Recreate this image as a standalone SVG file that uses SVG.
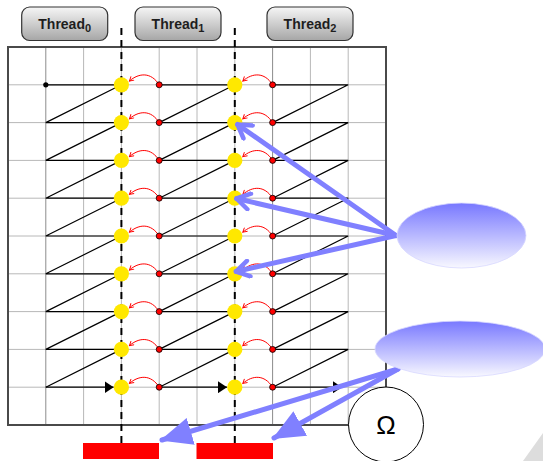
<svg xmlns="http://www.w3.org/2000/svg" width="543" height="461" viewBox="0 0 543 461">
  <defs>
    <linearGradient id="boxFill" x1="0" y1="0" x2="0" y2="1">
      <stop offset="0" stop-color="#f6f6f6"/>
      <stop offset="1" stop-color="#a6a6a6"/>
    </linearGradient>
    <linearGradient id="blobFill" x1="0" y1="0" x2="0" y2="1">
      <stop offset="0" stop-color="#7878ff"/>
      <stop offset="1" stop-color="#f8f8ff"/>
    </linearGradient>
    <marker id="endBlack" viewBox="0 0 9 12" refX="9" refY="6" markerWidth="9" markerHeight="12" markerUnits="userSpaceOnUse" orient="auto">
      <path d="M0,0 L9,6 L0,12 z" fill="#000"/>
    </marker>
    <marker id="endRed" viewBox="0 0 10 10" refX="8" refY="5" markerWidth="6" markerHeight="6" markerUnits="userSpaceOnUse" orient="auto">
      <path d="M1,1 L8,5 L1,9" fill="none" stroke="#ff0000" stroke-width="1.6"/>
    </marker>
    <marker id="endChevron" viewBox="-16 -10 18 20" refX="0" refY="0" markerWidth="18" markerHeight="20" markerUnits="userSpaceOnUse" orient="auto">
      <path d="M-13,-8 L0,0 L-13,8" fill="none" stroke="#8080ff" stroke-width="4.5" stroke-linecap="round" stroke-linejoin="round"/>
    </marker>
    <marker id="endBig" viewBox="0 0 32 28" refX="30" refY="14" markerWidth="32" markerHeight="28" markerUnits="userSpaceOnUse" orient="auto">
      <path d="M0,0 L32,14 L0,28 z" fill="#8080ff"/>
    </marker>
  </defs>
  <style>
    .gridL { stroke: #b8b8b8; stroke-width: 1; }
    .gridD { stroke: #8c8c8c; stroke-width: 1; }
    .path { stroke: #000; stroke-width: 1.2; fill: none; }
    .cut { stroke: #000; stroke-width: 2; stroke-dasharray: 7 5; }
    .worker { fill: #ffe800; }
    .seed { fill: #ff0000; stroke: #000; stroke-width: 0.8; }
    .hand { fill: none; stroke: #ff0000; stroke-width: 1; marker-end: url(#endRed); }
    .ptr { stroke: #8080ff; stroke-width: 5; stroke-linecap: round; fill: none; }
    .label { fill: url(#boxFill); stroke: #333; stroke-width: 1.2; }
    .ltext { font-family: "Liberation Sans", Arial, sans-serif; font-weight: bold; font-size: 14px; fill: #1e1e1e; }
    .sub { font-size: 11px; }
    .blob { fill: url(#blobFill); stroke: #d8d8ff; stroke-width: 0.8; }
    .bar { fill: #ff0000; }
  </style>

  <!-- corner page shading -->
  <polygon points="523,461 543,433 543,461" fill="#dddddd"/>

  <!-- grid -->
  <g id="grid">
    <g class="gridL">
      <line x1="8" y1="84.8" x2="386" y2="84.8"/>
      <line x1="8" y1="122.6" x2="386" y2="122.6"/>
      <line x1="8" y1="160.4" x2="386" y2="160.4"/>
      <line x1="8" y1="198.2" x2="386" y2="198.2"/>
      <line x1="8" y1="236" x2="386" y2="236"/>
      <line x1="8" y1="273.8" x2="386" y2="273.8"/>
      <line x1="8" y1="311.6" x2="386" y2="311.6"/>
      <line x1="8" y1="349.4" x2="386" y2="349.4"/>
      <line x1="8" y1="387.2" x2="386" y2="387.2"/>
      <line x1="83.6" y1="47" x2="83.6" y2="425"/>
      <line x1="121.4" y1="47" x2="121.4" y2="425"/>
      <line x1="159.2" y1="47" x2="159.2" y2="425"/>
      <line x1="197" y1="47" x2="197" y2="425"/>
      <line x1="234.8" y1="47" x2="234.8" y2="425"/>
      <line x1="310.4" y1="47" x2="310.4" y2="425"/>
      <line x1="348.2" y1="47" x2="348.2" y2="425"/>
    </g>
    <g class="gridD">
      <line x1="45.8" y1="47" x2="45.8" y2="425"/>
      <line x1="272.6" y1="47" x2="272.6" y2="425"/>
    </g>
    <rect x="8" y="47" width="378" height="378" fill="none" stroke="#4a4a4a" stroke-width="2"/>
  </g>

  <!-- zigzag traversal inside each thread block -->
  <g id="traversal" class="path">
    <path d="M45.8,84.8 H121.4 L45.8,122.6 H121.4 L45.8,160.4 H121.4 L45.8,198.2 H121.4 L45.8,236 H121.4 L45.8,273.8 H121.4 L45.8,311.6 H121.4 L45.8,349.4 H121.4 L45.8,387.2"/>
    <path d="M159.2,84.8 H234.8 L159.2,122.6 H234.8 L159.2,160.4 H234.8 L159.2,198.2 H234.8 L159.2,236 H234.8 L159.2,273.8 H234.8 L159.2,311.6 H234.8 L159.2,349.4 H234.8 L159.2,387.2"/>
    <path d="M272.6,84.8 H348.2 L272.6,122.6 H348.2 L272.6,160.4 H348.2 L272.6,198.2 H348.2 L272.6,236 H348.2 L272.6,273.8 H348.2 L272.6,311.6 H348.2 L272.6,349.4 H348.2 L272.6,387.2"/>
    <line x1="45.8" y1="387.2" x2="113.6" y2="387.2" marker-end="url(#endBlack)"/>
    <line x1="159.2" y1="387.2" x2="227" y2="387.2" marker-end="url(#endBlack)"/>
    <line x1="272.6" y1="387.2" x2="342" y2="387.2" marker-end="url(#endBlack)"/>
  </g>

  <!-- thread boundaries -->
  <g id="boundaries">
    <line class="cut" x1="121.4" y1="28" x2="121.4" y2="446"/>
    <line class="cut" x1="234.8" y1="28" x2="234.8" y2="446"/>
  </g>

  <!-- start point -->
  <g id="start">
    <circle cx="45.8" cy="84.8" r="2.6" fill="#000"/>
  </g>

  <!-- hand-over arcs from block start to previous block's worker -->
  <g id="handovers">
    <path class="hand" d="M159.2,84.8 C151,71.8 139,72.8 129.4,81"/>
    <path class="hand" d="M159.2,122.6 C151,109.6 139,110.6 129.4,118.8"/>
    <path class="hand" d="M159.2,160.4 C151,147.4 139,148.4 129.4,156.6"/>
    <path class="hand" d="M159.2,198.2 C151,185.2 139,186.2 129.4,194.4"/>
    <path class="hand" d="M159.2,236 C151,223 139,224 129.4,232.2"/>
    <path class="hand" d="M159.2,273.8 C151,260.8 139,261.8 129.4,270"/>
    <path class="hand" d="M159.2,311.6 C151,298.6 139,299.6 129.4,307.8"/>
    <path class="hand" d="M159.2,349.4 C151,336.4 139,337.4 129.4,345.6"/>
    <path class="hand" d="M159.2,387.2 C151,374.2 139,375.2 129.4,383.4"/>
    <path class="hand" d="M272.6,84.8 C264.4,71.8 252.4,72.8 242.8,81"/>
    <path class="hand" d="M272.6,122.6 C264.4,109.6 252.4,110.6 242.8,118.8"/>
    <path class="hand" d="M272.6,160.4 C264.4,147.4 252.4,148.4 242.8,156.6"/>
    <path class="hand" d="M272.6,198.2 C264.4,185.2 252.4,186.2 242.8,194.4"/>
    <path class="hand" d="M272.6,236 C264.4,223 252.4,224 242.8,232.2"/>
    <path class="hand" d="M272.6,273.8 C264.4,260.8 252.4,261.8 242.8,270"/>
    <path class="hand" d="M272.6,311.6 C264.4,298.6 252.4,299.6 242.8,307.8"/>
    <path class="hand" d="M272.6,349.4 C264.4,336.4 252.4,337.4 242.8,345.6"/>
    <path class="hand" d="M272.6,387.2 C264.4,374.2 252.4,375.2 242.8,383.4"/>
  </g>

  <!-- worker positions on the boundaries -->
  <g id="workers" class="worker">
    <circle cx="121.4" cy="84.8" r="7.6"/>
    <circle cx="121.4" cy="122.6" r="7.6"/>
    <circle cx="121.4" cy="160.4" r="7.6"/>
    <circle cx="121.4" cy="198.2" r="7.6"/>
    <circle cx="121.4" cy="236" r="7.6"/>
    <circle cx="121.4" cy="273.8" r="7.6"/>
    <circle cx="121.4" cy="311.6" r="7.6"/>
    <circle cx="121.4" cy="349.4" r="7.6"/>
    <circle cx="121.4" cy="387.2" r="7.6"/>
    <circle cx="234.8" cy="84.8" r="7.6"/>
    <circle cx="234.8" cy="122.6" r="7.6"/>
    <circle cx="234.8" cy="160.4" r="7.6"/>
    <circle cx="234.8" cy="198.2" r="7.6"/>
    <circle cx="234.8" cy="236" r="7.6"/>
    <circle cx="234.8" cy="273.8" r="7.6"/>
    <circle cx="234.8" cy="311.6" r="7.6"/>
    <circle cx="234.8" cy="349.4" r="7.6"/>
    <circle cx="234.8" cy="387.2" r="7.6"/>
  </g>

  <!-- block start points -->
  <g id="seeds" class="seed">
    <circle cx="159.2" cy="84.8" r="3"/>
    <circle cx="159.2" cy="122.6" r="3"/>
    <circle cx="159.2" cy="160.4" r="3"/>
    <circle cx="159.2" cy="198.2" r="3"/>
    <circle cx="159.2" cy="236" r="3"/>
    <circle cx="159.2" cy="273.8" r="3"/>
    <circle cx="159.2" cy="311.6" r="3"/>
    <circle cx="159.2" cy="349.4" r="3"/>
    <circle cx="159.2" cy="387.2" r="3"/>
    <circle cx="272.6" cy="84.8" r="3"/>
    <circle cx="272.6" cy="122.6" r="3"/>
    <circle cx="272.6" cy="160.4" r="3"/>
    <circle cx="272.6" cy="198.2" r="3"/>
    <circle cx="272.6" cy="236" r="3"/>
    <circle cx="272.6" cy="273.8" r="3"/>
    <circle cx="272.6" cy="311.6" r="3"/>
    <circle cx="272.6" cy="349.4" r="3"/>
    <circle cx="272.6" cy="387.2" r="3"/>
  </g>

  <!-- thread labels -->
  <g id="thread0">
    <rect class="label" x="21.7" y="7" width="86" height="33.5" rx="8"/>
    <text class="ltext" x="64.7" y="29" text-anchor="middle">Thread<tspan class="sub" dy="3">0</tspan></text>
  </g>
  <g id="thread1">
    <rect class="label" x="135" y="7" width="86" height="33.5" rx="8"/>
    <text class="ltext" x="178" y="29" text-anchor="middle">Thread<tspan class="sub" dy="3">1</tspan></text>
  </g>
  <g id="thread2">
    <rect class="label" x="267" y="7" width="86" height="33.5" rx="8"/>
    <text class="ltext" x="310" y="29" text-anchor="middle">Thread<tspan class="sub" dy="3">2</tspan></text>
  </g>

  <!-- result slots -->
  <g id="slot0"><rect class="bar" x="83" y="443" width="76" height="16"/></g>
  <g id="slot1"><rect class="bar" x="196.5" y="443" width="76.5" height="16"/></g>

  <!-- pointer connectors -->
  <g id="connectors">
    <line class="ptr" x1="396" y1="235.5" x2="237.5" y2="124.5" marker-end="url(#endChevron)"/>
    <line class="ptr" x1="396" y1="235.5" x2="236.5" y2="198.5" marker-end="url(#endChevron)"/>
    <line class="ptr" x1="396" y1="235.5" x2="236" y2="271.5" marker-end="url(#endChevron)"/>
    <line class="ptr" x1="398" y1="369" x2="162" y2="440" marker-end="url(#endBig)"/>
    <line class="ptr" x1="398" y1="369" x2="274" y2="438" marker-end="url(#endBig)"/>
  </g>

  <!-- callouts -->
  <g id="callout1">
    <ellipse class="blob" cx="461.5" cy="235.5" rx="64.5" ry="32.5"/>
  </g>
  <g id="callout2">
    <ellipse class="blob" cx="460" cy="349" rx="85" ry="28"/>
  </g>

  <!-- omega node -->
  <g id="omega">
    <circle cx="386" cy="424.5" r="37.5" fill="#fff" stroke="#000" stroke-width="1"/>
    <text x="386" y="434" text-anchor="middle" font-family="Liberation Sans, Arial, sans-serif" font-size="26" fill="#000">Ω</text>
  </g>
</svg>
